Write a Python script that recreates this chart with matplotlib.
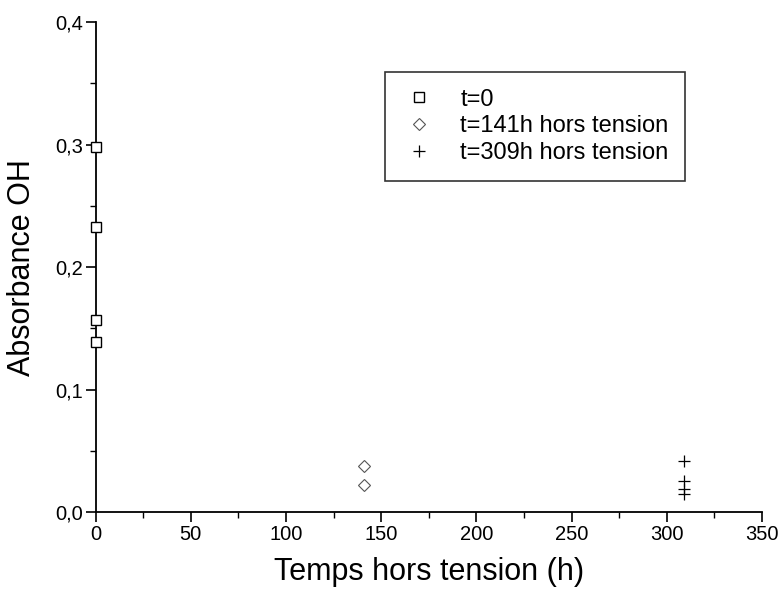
import matplotlib
matplotlib.use("Agg")
import matplotlib.pyplot as plt
from matplotlib.ticker import FuncFormatter, MultipleLocator

plt.rcParams["font.family"] = ["Liberation Sans", "DejaVu Sans"]

# t=0 (squares), t=141h (diamonds), t=309h (crosses)
t0_x = [0, 0, 0, 0]
t0_y = [0.298, 0.233, 0.157, 0.139]
t141_x = [141, 141]
t141_y = [0.038, 0.022]
t309_x = [309, 309, 309, 309]
t309_y = [0.042, 0.025, 0.019, 0.015]

labels = ["t=0", "t=141h hors tension", "t=309h hors tension"]

fig = plt.figure(figsize=(7.84, 6.01), dpi=100)
ax = fig.add_axes([0.122, 0.148, 0.850, 0.815])

ax.plot(t0_x, t0_y, ls="none", marker="s", ms=7, mfc="white", mec="black",
        mew=1.0, clip_on=False, zorder=5, label=labels[0])
ax.plot(t141_x, t141_y, ls="none", marker="D", ms=6, mfc="white", mec="#555555",
        mew=0.8, clip_on=False, zorder=5, label=labels[1])
ax.plot(t309_x, t309_y, ls="none", marker="+", ms=9, color="black",
        mew=0.9, clip_on=False, zorder=5, label=labels[2])

ax.set_xlim(0, 350)
ax.set_ylim(0, 0.4)
ax.xaxis.set_major_locator(MultipleLocator(50))
ax.xaxis.set_minor_locator(MultipleLocator(25))
ax.yaxis.set_major_locator(MultipleLocator(0.1))
ax.yaxis.set_minor_locator(MultipleLocator(0.05))
ax.yaxis.set_major_formatter(FuncFormatter(lambda v, p: f"{v:.1f}".replace(".", ",")))

for s in ["top", "right"]:
    ax.spines[s].set_visible(False)
for s in ["left", "bottom"]:
    ax.spines[s].set_linewidth(1.3)

ax.tick_params(which="major", direction="out", length=7, width=1.2, labelsize=14.5,
               pad=2)
ax.tick_params(which="minor", direction="out", length=4, width=1.0)

ax.set_xlabel("Temps hors tension (h)", fontsize=22, labelpad=10)
ax.set_ylabel("Absorbance OH", fontsize=22, labelpad=13)

leg = ax.legend(loc="upper left", bbox_to_anchor=(0.434, 0.898), fontsize=17,
                frameon=True, fancybox=False, edgecolor="black",
                handletextpad=1.0, borderpad=0.7, labelspacing=0.2,
                handlelength=1.5, borderaxespad=0)
leg.get_frame().set_linewidth(1.2)

fig.savefig("out.png", dpi=100)
